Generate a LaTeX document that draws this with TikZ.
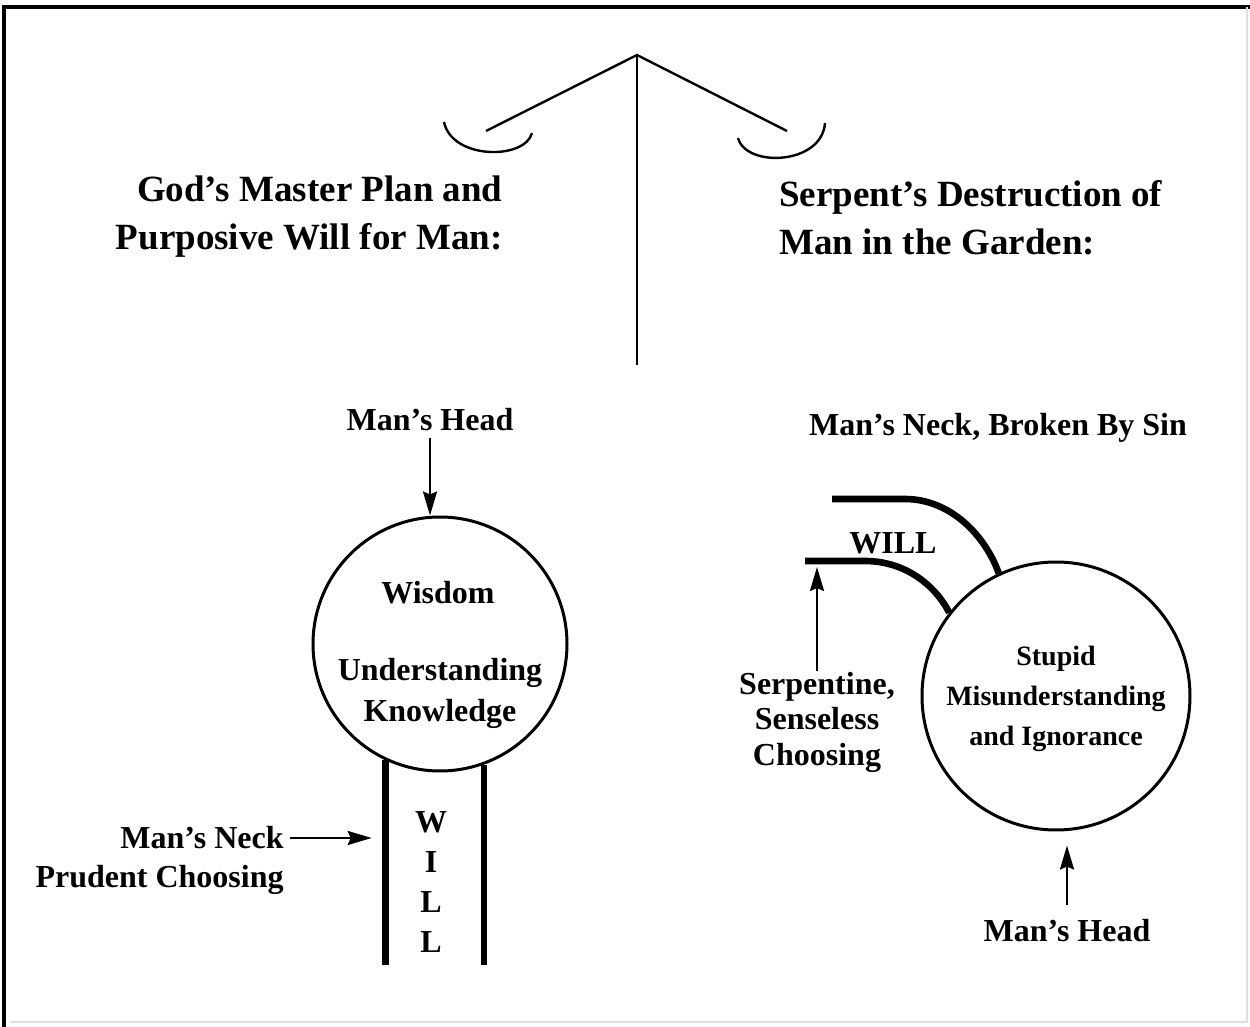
\documentclass[tikz,border=0pt]{standalone}
\usepackage{fontspec}
\setmainfont{Liberation Serif}
\usetikzlibrary{arrows.meta, positioning}

\begin{document}
\begin{tikzpicture}[
    x=0.5pt, y=-0.5pt, >={Stealth[length=12pt,width=7pt,inset=1.5pt]},
    txt/.style={font=\bfseries\fontsize{16}{20}\selectfont, inner sep=0pt},
    small/.style={font=\bfseries\fontsize{14}{20}\selectfont, inner sep=0pt, align=center},
    title/.style={font=\bfseries\fontsize{18.5}{24}\selectfont, inner sep=0pt},
    head/.style={circle, draw, line width=1.5pt, inner sep=0pt},
    neck/.style={line width=3.3pt},
    arm/.style={line width=1.2pt},
    pointer/.style={->, line width=1.3pt}]

    \useasboundingbox (0,0) rectangle (1250,1027);

    % frame
    \draw[line width=1.8pt] (4,1027) -- (4,7) -- (1250,7);
    \draw[black!12, line width=1pt] (1247,7) -- (1247,1022) -- (10,1022);

    % the balance
    \coordinate (apex) at (637,55);
    \coordinate (base) at (637,365);
    \coordinate (larm) at (486,131);
    \coordinate (rarm) at (787,131);
    \draw[arm] (larm) -- (apex) -- (rarm);
    \draw[arm] (apex) -- (base);
    \draw[arm] (444,122) .. controls (452,160) and (525,160) .. (532,133);
    \draw[arm] (738,138) .. controls (746,168) and (822,165) .. (825,123);

    % titles
    \node[title, align=right, anchor=east] (gtitle) at (503,217)
        {God’s Master Plan and\\Purposive Will for Man:};
    \node[title, align=left, anchor=west] (stitle) at (779,218)
        {Serpent’s Destruction of\\Man in the Garden:};

    % left: the upright man
    \node[head, minimum size=127pt] (lcirc) at (440,644) {};
    \node[txt] (lwis) at (438,593) {Wisdom};
    \node[txt, align=center, font=\bfseries\fontsize{16}{20.5}\selectfont] (lund) at (440,693)
        {Understanding\\Knowledge};
    \node[txt] (lhead) at (430,420) {Man’s Head};
    \draw[pointer, shorten <=3pt] (lhead.south) -- (lhead.south |- lcirc.north);

    \draw[neck] (lcirc.245) -- (lcirc.245 |- 0,965);
    \draw[neck] (lcirc.290) -- (lcirc.290 |- 0,965);
    \node[txt, align=center, font=\bfseries\fontsize{16}{20}\selectfont] (lwill) at (431,882)
        {W\\I\\L\\L};

    \node[txt, anchor=east] (lneck) at (284,838) {Man’s Neck};
    \node[txt, anchor=east] (lchoose) at (284,880) {Prudent Choosing};
    \draw[pointer, shorten <=3pt, shorten >=7pt] (lneck.east) -- (lcirc.245 |- lneck.east);

    % right: the broken man
    \node[head, minimum size=134pt] (rcirc) at (1056,696) {};
    \node[small] (rmind) at (1056,699)
        {Stupid\\Misunderstanding\\and Ignorance};
    \node[txt] (rbroken) at (998,428) {Man’s Neck, Broken By Sin};

    \coordinate (uend) at (832,499);
    \coordinate (lend) at (805,561);
    \draw[neck] (uend) -- (905,499) .. controls (950,499) and (985,535) .. (rcirc.115);
    \draw[neck] (lend) -- (865,561) .. controls (905,561) and (935,585) .. (rcirc.142);
    \node[txt] (rwill) at (893,543) {WILL};

    \node[txt, align=center, font=\bfseries\fontsize{16}{17.75}\selectfont] (rchoose) at (817,722)
        {Serpentine,\\Senseless\\Choosing};
    \draw[pointer, shorten >=3pt] (rchoose.north) -- (rchoose.north |- lend);

    \node[txt] (rhead) at (1067,931) {Man’s Head};
    \draw[pointer, shorten <=7pt, shorten >=7pt] (rhead.north) -- (rhead.north |- rcirc.south);
\end{tikzpicture}
\end{document}
